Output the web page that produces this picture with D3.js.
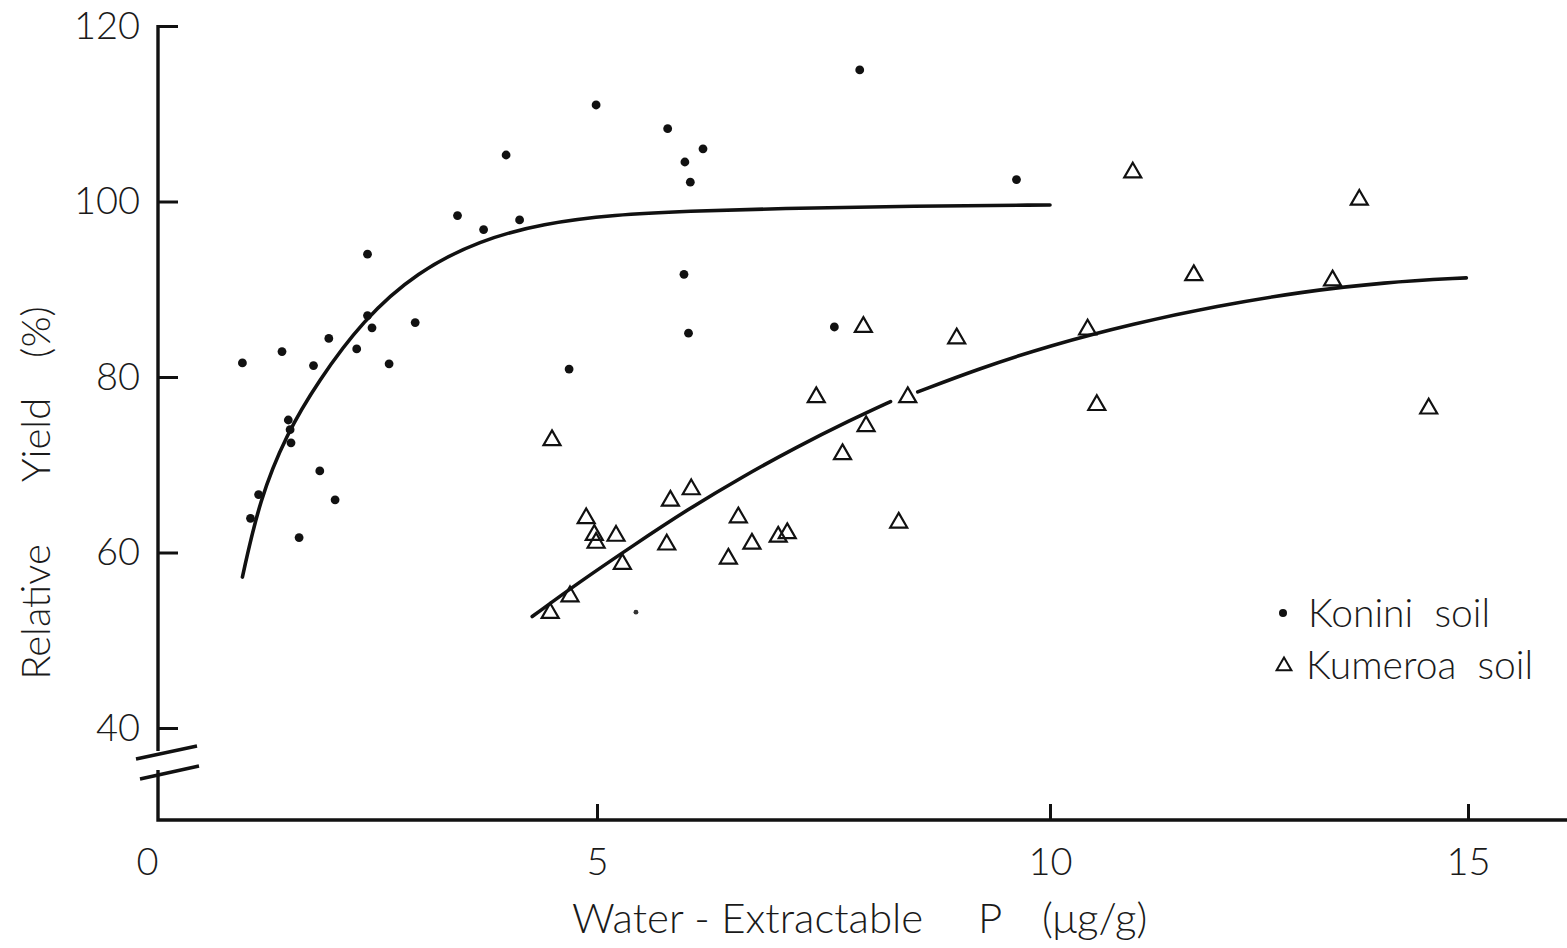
<!DOCTYPE html>
<meta charset="utf-8">
<style>
body { margin: 0; background: #fff; }
text { font-family: Lato, "Open Sans", sans-serif; font-weight: 300; fill: #1a1a1a; }
.tick text { font-size: 38px; }
.curve { fill: none; stroke: #111; stroke-width: 3.6; stroke-linecap: round; }
</style>
<svg width="1567" height="948"></svg>
<script src="https://d3js.org/d3.v7.min.js"></script>
<script>

// Konini soil (dots)
var koniniX = [1.06,1.50,1.15,1.24,1.57,1.59,1.60,1.69,1.85,1.92,2.02,2.09,2.33,2.45,2.50,2.45,2.69,2.98,
               3.45,3.74,3.99,4.14,4.69,4.99,5.78,5.97,6.17,6.03,5.96,6.01,7.62,7.90,9.63];
var koniniY = [81.6,82.9,63.9,66.6,75.1,74.0,72.5,61.7,81.3,69.3,84.4,66.0,83.2,87.0,85.6,94.0,81.5,86.2,
               98.4,96.8,105.3,97.9,80.9,111.0,108.3,104.5,106.0,102.2,91.7,85.0,85.7,115.0,102.5];
// one faint small dot
var strayX = [5.43];
var strayY = [53.2];

// Kumeroa soil (triangles)
var kumeroaX = [4.50,4.48,4.70,4.88,4.97,4.99,5.21,5.28,5.77,5.81,6.04,6.45,6.56,6.71,7.00,7.10,
                7.42,7.71,7.94,7.97,8.33,8.43,8.97,10.45,10.56,10.99,11.72,13.38,13.70,14.53];
var kumeroaY = [72.8,53.1,55.0,63.9,62.0,61.1,61.9,58.7,60.9,65.9,67.2,59.3,64.0,61.0,61.8,62.2,
                77.7,71.2,85.7,74.4,63.4,77.7,84.4,85.4,76.8,103.3,91.6,91.0,100.2,76.4];

// fitted curves
var koniniFitX = [1.06,1.25,1.55,1.90,2.40,3.00,3.70,4.40,5.20,6.00,7.00,8.50,10.0];
var koniniFitY = [57.2,66.0,73.5,79.5,86.5,92.0,95.6,97.5,98.5,98.9,99.2,99.5,99.6];
// the Kumeroa curve is broken where it passes a point near x = 8.4
var kumeroaFitAX = [4.28,4.80,5.40,6.00,6.60,7.20,7.80,8.24];
var kumeroaFitAY = [52.7,56.6,60.8,64.9,68.6,72.0,75.1,77.2];
var kumeroaFitBX = [8.54,9.20,10.00,11.00,12.00,13.00,14.00,14.98];
var kumeroaFitBY = [78.3,80.9,83.6,86.1,88.1,89.7,90.8,91.3];

var xTicks = [0,5,10,15];
var yTicks = [40,60,80,100,120];

var svg = d3.select("svg");

var x = d3.scaleLinear().domain([0,5,10,15]).range([147,597,1050,1468]);
var y = d3.scaleLinear().domain([40,120]).range([728,26]);

var axisX = 158, axisY = 820;

// y axis (ticks point inward)
var yAxis = svg.append("g")
  .attr("transform", "translate(" + axisX + ",0)")
  .call(d3.axisLeft(y).tickValues(yTicks).tickSizeInner(-20).tickSizeOuter(0).tickPadding(18));
yAxis.select(".domain").remove();
yAxis.selectAll(".tick line").attr("stroke", "#111").attr("stroke-width", 3);
yAxis.selectAll(".tick text").attr("fill", "#1a1a1a");

// x axis
var xAxis = svg.append("g")
  .attr("transform", "translate(0," + axisY + ")")
  .call(d3.axisBottom(x).tickValues(xTicks).tickSizeInner(-16).tickSizeOuter(0).tickPadding(28));
xAxis.select(".domain").remove();
xAxis.selectAll(".tick line").attr("stroke", "#111").attr("stroke-width", 3)
  .attr("display", function(d) { return d === 0 ? "none" : null; });
xAxis.selectAll(".tick text").attr("fill", "#1a1a1a");

// axis lines with the break
var axisLines = [
  [[axisX, y(120) - 1], [axisX, 751]],
  [[axisX, 770], [axisX, axisY], [1567, axisY]],
  [[136, 759], [197, 746]],
  [[140, 779], [199, 766]]
];
svg.selectAll("path.axisline").data(axisLines).enter().append("path")
  .attr("class", "axisline")
  .attr("d", d3.line())
  .attr("fill", "none").attr("stroke", "#111").attr("stroke-width", 3.4);

// fitted curves
var line = d3.line().curve(d3.curveBasis);
function pts(xs, ys) { return xs.map(function(v, i) { return [x(v), y(ys[i])]; }); }
[pts(koniniFitX, koniniFitY), pts(kumeroaFitAX, kumeroaFitAY), pts(kumeroaFitBX, kumeroaFitBY)]
  .forEach(function(p) { svg.append("path").attr("class", "curve").attr("d", line(p)); });

// Konini points
svg.selectAll("circle.konini").data(koniniX).enter().append("circle")
  .attr("class", "konini")
  .attr("cx", function(d) { return x(d); })
  .attr("cy", function(d, i) { return y(koniniY[i]); })
  .attr("r", 4.4).attr("fill", "#111");
svg.selectAll("circle.stray").data(strayX).enter().append("circle")
  .attr("class", "stray")
  .attr("cx", function(d) { return x(d); })
  .attr("cy", function(d, i) { return y(strayY[i]); })
  .attr("r", 2.4).attr("fill", "#333");

// Kumeroa points
var tri = d3.symbol().type(d3.symbolTriangle).size(125);
svg.selectAll("path.kumeroa").data(kumeroaX).enter().append("path")
  .attr("class", "kumeroa")
  .attr("d", tri)
  .attr("transform", function(d, i) { return "translate(" + x(d) + "," + y(kumeroaY[i]) + ")"; })
  .attr("fill", "none").attr("stroke", "#111").attr("stroke-width", 2.2);

// axis titles
svg.append("text").attr("x", 572).attr("y", 933).attr("font-size", 42).text("Water - Extractable");
svg.append("text").attr("x", 978).attr("y", 933).attr("font-size", 42).text("P");
svg.append("text").attr("x", 1042).attr("y", 933).attr("font-size", 42).text("(\u03bcg/g)");

var yWords = ["Relative", "Yield", "(%)"];
var yWordPos = [612, 440, 332];
yWords.forEach(function(w, i) {
  svg.append("text")
    .attr("transform", "translate(50," + yWordPos[i] + ") rotate(-90)")
    .attr("text-anchor", "middle").attr("font-size", 40).text(w);
});

// legend
svg.append("circle").attr("cx", 1283).attr("cy", 613).attr("r", 4).attr("fill", "#111");
svg.append("text").attr("x", 1308).attr("y", 627).attr("font-size", 39)
  .style("white-space", "pre").text("Konini  soil");
svg.append("path").attr("d", d3.symbol().type(d3.symbolTriangle).size(95))
  .attr("transform", "translate(1284,666)")
  .attr("fill", "none").attr("stroke", "#111").attr("stroke-width", 2);
svg.append("text").attr("x", 1306).attr("y", 679).attr("font-size", 39)
  .style("white-space", "pre").text("Kumeroa  soil");

</script>
